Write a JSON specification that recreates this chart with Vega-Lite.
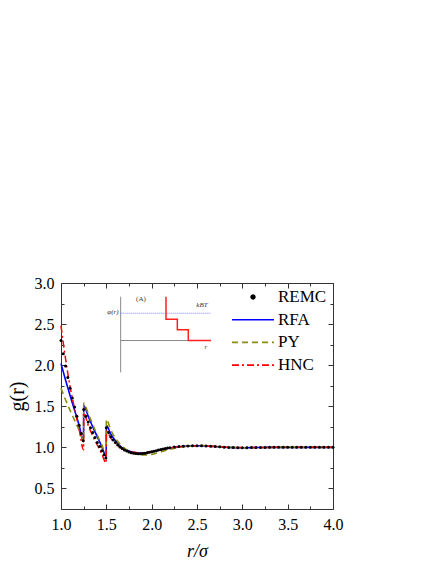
{
  "$schema": "https://vega.github.io/schema/vega-lite/v6.json",
  "autosize": {"type": "none"},
  "width": 272,
  "height": 226,
  "padding": {"left": 61, "top": 283, "right": 103, "bottom": 55},
  "background": "white",
  "config": {"view": {"stroke": null}, "font": "Liberation Serif"},
  "datasets": {
    "curves": [
      {"s":"REMC","r":1.0,"g":2.30},{"s":"REMC","r":1.025,"g":2.14},{"s":"REMC","r":1.05,"g":1.99},{"s":"REMC","r":1.075,"g":1.85},
      {"s":"REMC","r":1.1,"g":1.72},{"s":"REMC","r":1.125,"g":1.60},{"s":"REMC","r":1.15,"g":1.49},{"s":"REMC","r":1.175,"g":1.38},
      {"s":"REMC","r":1.2,"g":1.27},{"s":"REMC","r":1.225,"g":1.17},{"s":"REMC","r":1.245,"g":1.08},
      {"s":"REMC","r":1.25,"g":1.46},{"s":"REMC","r":1.275,"g":1.38},{"s":"REMC","r":1.3,"g":1.31},{"s":"REMC","r":1.325,"g":1.24},
      {"s":"REMC","r":1.35,"g":1.18},{"s":"REMC","r":1.375,"g":1.12},{"s":"REMC","r":1.4,"g":1.06},{"s":"REMC","r":1.425,"g":1.01},
      {"s":"REMC","r":1.45,"g":0.96},{"s":"REMC","r":1.475,"g":0.91},{"s":"REMC","r":1.495,"g":0.87},
      {"s":"REMC","r":1.5,"g":1.24},{"s":"REMC","r":1.525,"g":1.18},{"s":"REMC","r":1.55,"g":1.13},{"s":"REMC","r":1.575,"g":1.09},
      {"s":"REMC","r":1.6,"g":1.06},{"s":"REMC","r":1.625,"g":1.03},{"s":"REMC","r":1.65,"g":1.005},{"s":"REMC","r":1.675,"g":0.985},
      {"s":"REMC","r":1.7,"g":0.968},{"s":"REMC","r":1.725,"g":0.955},{"s":"REMC","r":1.75,"g":0.944},{"s":"REMC","r":1.775,"g":0.935},
      {"s":"REMC","r":1.8,"g":0.929},{"s":"REMC","r":1.825,"g":0.925},{"s":"REMC","r":1.85,"g":0.923},{"s":"REMC","r":1.875,"g":0.923},
      {"s":"REMC","r":1.9,"g":0.925},{"s":"REMC","r":1.925,"g":0.929},{"s":"REMC","r":1.95,"g":0.934},{"s":"REMC","r":1.975,"g":0.94},
      {"s":"REMC","r":2.0,"g":0.947},{"s":"REMC","r":2.025,"g":0.953},{"s":"REMC","r":2.05,"g":0.96},{"s":"REMC","r":2.075,"g":0.967},
      {"s":"REMC","r":2.1,"g":0.974},{"s":"REMC","r":2.125,"g":0.98},{"s":"REMC","r":2.15,"g":0.986},{"s":"REMC","r":2.175,"g":0.991},
      {"s":"REMC","r":2.2,"g":0.996},{"s":"REMC","r":2.25,"g":1.004},{"s":"REMC","r":2.3,"g":1.01},{"s":"REMC","r":2.35,"g":1.015},
      {"s":"REMC","r":2.4,"g":1.018},{"s":"REMC","r":2.45,"g":1.02},{"s":"REMC","r":2.5,"g":1.021},{"s":"REMC","r":2.55,"g":1.02},
      {"s":"REMC","r":2.6,"g":1.018},{"s":"REMC","r":2.65,"g":1.014},{"s":"REMC","r":2.7,"g":1.01},{"s":"REMC","r":2.75,"g":1.006},
      {"s":"REMC","r":2.8,"g":1.002},{"s":"REMC","r":2.85,"g":0.999},{"s":"REMC","r":2.9,"g":0.997},{"s":"REMC","r":2.95,"g":0.996},
      {"s":"REMC","r":3.0,"g":0.996},{"s":"REMC","r":3.05,"g":0.996},{"s":"REMC","r":3.1,"g":0.997},{"s":"REMC","r":3.15,"g":0.998},
      {"s":"REMC","r":3.2,"g":0.999},{"s":"REMC","r":3.25,"g":0.999},{"s":"REMC","r":3.3,"g":1.0},{"s":"REMC","r":3.35,"g":1.0},
      {"s":"REMC","r":3.4,"g":1.0},{"s":"REMC","r":3.45,"g":1.0},{"s":"REMC","r":3.5,"g":1.001},{"s":"REMC","r":3.55,"g":1.001},
      {"s":"REMC","r":3.6,"g":1.0},{"s":"REMC","r":3.65,"g":1.0},{"s":"REMC","r":3.7,"g":1.0},{"s":"REMC","r":3.75,"g":1.0},
      {"s":"REMC","r":3.8,"g":1.0},{"s":"REMC","r":3.85,"g":1.0},{"s":"REMC","r":3.9,"g":1.0},{"s":"REMC","r":3.95,"g":1.0},
      {"s":"REMC","r":4.0,"g":1.0},

      {"s":"RFA","r":1.0,"g":2.02},{"s":"RFA","r":1.05,"g":1.82},{"s":"RFA","r":1.1,"g":1.63},{"s":"RFA","r":1.15,"g":1.45},
      {"s":"RFA","r":1.2,"g":1.27},{"s":"RFA","r":1.249,"g":1.07},
      {"s":"RFA","r":1.25,"g":1.51},{"s":"RFA","r":1.3,"g":1.38},{"s":"RFA","r":1.35,"g":1.25},{"s":"RFA","r":1.4,"g":1.13},
      {"s":"RFA","r":1.45,"g":1.01},{"s":"RFA","r":1.499,"g":0.89},
      {"s":"RFA","r":1.5,"g":1.27},{"s":"RFA","r":1.55,"g":1.16},{"s":"RFA","r":1.6,"g":1.08},{"s":"RFA","r":1.65,"g":1.02},
      {"s":"RFA","r":1.7,"g":0.98},{"s":"RFA","r":1.75,"g":0.955},{"s":"RFA","r":1.8,"g":0.94},{"s":"RFA","r":1.85,"g":0.932},
      {"s":"RFA","r":1.9,"g":0.93},{"s":"RFA","r":1.95,"g":0.935},{"s":"RFA","r":2.0,"g":0.945},{"s":"RFA","r":2.1,"g":0.97},
      {"s":"RFA","r":2.2,"g":0.993},{"s":"RFA","r":2.3,"g":1.008},{"s":"RFA","r":2.4,"g":1.017},{"s":"RFA","r":2.5,"g":1.02},
      {"s":"RFA","r":2.6,"g":1.017},{"s":"RFA","r":2.7,"g":1.01},{"s":"RFA","r":2.8,"g":1.002},{"s":"RFA","r":2.9,"g":0.997},
      {"s":"RFA","r":3.0,"g":0.996},{"s":"RFA","r":3.1,"g":0.997},{"s":"RFA","r":3.2,"g":0.999},{"s":"RFA","r":3.4,"g":1.0},
      {"s":"RFA","r":3.6,"g":1.0},{"s":"RFA","r":3.8,"g":1.0},{"s":"RFA","r":4.0,"g":1.0},

      {"s":"PY","r":1.0,"g":1.72},{"s":"PY","r":1.05,"g":1.58},{"s":"PY","r":1.1,"g":1.45},{"s":"PY","r":1.15,"g":1.33},
      {"s":"PY","r":1.2,"g":1.21},{"s":"PY","r":1.249,"g":1.08},
      {"s":"PY","r":1.25,"g":1.54},{"s":"PY","r":1.3,"g":1.41},{"s":"PY","r":1.35,"g":1.28},{"s":"PY","r":1.4,"g":1.15},
      {"s":"PY","r":1.45,"g":1.03},{"s":"PY","r":1.499,"g":0.91},
      {"s":"PY","r":1.5,"g":1.34},{"s":"PY","r":1.55,"g":1.21},{"s":"PY","r":1.6,"g":1.11},{"s":"PY","r":1.65,"g":1.04},
      {"s":"PY","r":1.7,"g":0.99},{"s":"PY","r":1.75,"g":0.955},{"s":"PY","r":1.8,"g":0.93},{"s":"PY","r":1.85,"g":0.915},
      {"s":"PY","r":1.9,"g":0.908},{"s":"PY","r":1.95,"g":0.908},{"s":"PY","r":2.0,"g":0.915},{"s":"PY","r":2.05,"g":0.928},
      {"s":"PY","r":2.1,"g":0.945},{"s":"PY","r":2.2,"g":0.975},{"s":"PY","r":2.3,"g":0.998},{"s":"PY","r":2.4,"g":1.012},
      {"s":"PY","r":2.5,"g":1.02},{"s":"PY","r":2.6,"g":1.022},{"s":"PY","r":2.7,"g":1.015},{"s":"PY","r":2.8,"g":1.006},
      {"s":"PY","r":2.9,"g":0.999},{"s":"PY","r":3.0,"g":0.995},{"s":"PY","r":3.1,"g":0.995},{"s":"PY","r":3.2,"g":0.997},
      {"s":"PY","r":3.4,"g":1.0},{"s":"PY","r":3.6,"g":1.0},{"s":"PY","r":3.8,"g":1.0},{"s":"PY","r":4.0,"g":1.0},

      {"s":"HNC","r":1.0,"g":2.48},{"s":"HNC","r":1.025,"g":2.27},{"s":"HNC","r":1.05,"g":2.08},{"s":"HNC","r":1.075,"g":1.90},
      {"s":"HNC","r":1.1,"g":1.74},{"s":"HNC","r":1.15,"g":1.47},{"s":"HNC","r":1.2,"g":1.22},{"s":"HNC","r":1.249,"g":0.97},
      {"s":"HNC","r":1.25,"g":1.42},{"s":"HNC","r":1.3,"g":1.27},{"s":"HNC","r":1.35,"g":1.14},{"s":"HNC","r":1.4,"g":1.03},
      {"s":"HNC","r":1.45,"g":0.92},{"s":"HNC","r":1.499,"g":0.81},
      {"s":"HNC","r":1.5,"g":1.20},{"s":"HNC","r":1.55,"g":1.11},{"s":"HNC","r":1.6,"g":1.05},{"s":"HNC","r":1.65,"g":1.0},
      {"s":"HNC","r":1.7,"g":0.97},{"s":"HNC","r":1.75,"g":0.95},{"s":"HNC","r":1.8,"g":0.94},{"s":"HNC","r":1.85,"g":0.935},
      {"s":"HNC","r":1.9,"g":0.935},{"s":"HNC","r":1.95,"g":0.94},{"s":"HNC","r":2.0,"g":0.95},{"s":"HNC","r":2.1,"g":0.972},
      {"s":"HNC","r":2.2,"g":0.993},{"s":"HNC","r":2.3,"g":1.008},{"s":"HNC","r":2.4,"g":1.016},{"s":"HNC","r":2.5,"g":1.019},
      {"s":"HNC","r":2.6,"g":1.016},{"s":"HNC","r":2.7,"g":1.01},{"s":"HNC","r":2.8,"g":1.003},{"s":"HNC","r":2.9,"g":0.998},
      {"s":"HNC","r":3.0,"g":0.997},{"s":"HNC","r":3.2,"g":0.999},{"s":"HNC","r":3.4,"g":1.0},{"s":"HNC","r":3.7,"g":1.0},
      {"s":"HNC","r":4.0,"g":1.0}
    ],
    "inset": [
      {"part":"vaxis","o":0,"r":1.658,"g":2.834},{"part":"vaxis","o":1,"r":1.658,"g":1.912},
      {"part":"haxis","o":0,"r":1.658,"g":2.30},{"part":"haxis","o":1,"r":2.654,"g":2.30},
      {"part":"kT","o":0,"r":1.658,"g":2.632},{"part":"kT","o":1,"r":2.654,"g":2.632},
      {"part":"step","o":0,"r":2.158,"g":2.834},{"part":"step","o":1,"r":2.158,"g":2.56},
      {"part":"step","o":2,"r":2.283,"g":2.56},{"part":"step","o":3,"r":2.283,"g":2.43},
      {"part":"step","o":4,"r":2.404,"g":2.43},{"part":"step","o":5,"r":2.404,"g":2.30},
      {"part":"step","o":6,"r":2.654,"g":2.30}
    ],
    "labels": [
      {"t":"φ(r)","it":true,"r":1.573,"g":2.645},
      {"t":"(A)","it":false,"r":1.882,"g":2.80},
      {"t":"kBT","it":true,"r":2.555,"g":2.733},
      {"t":"r","it":true,"r":2.599,"g":2.223}
    ]
  },
  "resolve": {"axis": {"x": "independent", "y": "independent"}},
  "layer": [
    {
      "data": {"name": "curves"},
      "transform": [{"filter": "datum.s === 'RFA'"}],
      "mark": {"type": "line", "strokeWidth": 1.6, "interpolate": "monotone"},
      "encoding": {
        "x": {"field": "r", "type": "quantitative", "scale": {"domain": [1, 4], "nice": false, "zero": false},
          "axis": {"orient": "bottom", "values": [1,1.25,1.5,1.75,2,2.25,2.5,2.75,3,3.25,3.5,3.75,4],
            "tickSize": {"condition": {"test": "abs(datum.value*2-round(datum.value*2))<0.01", "value": -5}, "value": -3},
            "labelExpr": "abs(datum.value*2-round(datum.value*2))<0.01 ? format(datum.value,'.1f') : ''",
            "labelFlush": false, "labelOverlap": false, "labelFont": "Liberation Serif", "labelFontSize": 16, "labelColor": "black",
            "labelPadding": 12, "grid": false, "domainColor": "#333", "tickColor": "#333",
            "title": "r/σ", "titleFont": "Liberation Serif", "titleFontSize": 18, "titleFontWeight": "normal", "titleFontStyle": "italic", "titleColor": "black", "titlePadding": 8}},
        "y": {"field": "g", "type": "quantitative", "scale": {"domain": [0.25, 3.0], "nice": false, "zero": false},
          "axis": {"orient": "left", "values": [0.25,0.5,0.75,1,1.25,1.5,1.75,2,2.25,2.5,2.75,3],
            "tickSize": {"condition": {"test": "abs(datum.value*2-round(datum.value*2))<0.01", "value": -5}, "value": -3},
            "labelExpr": "abs(datum.value*2-round(datum.value*2))<0.01 ? format(datum.value,'.1f') : ''",
            "labelFlush": false, "labelOverlap": false, "labelFont": "Liberation Serif", "labelFontSize": 16, "labelColor": "black",
            "labelPadding": 12, "grid": false, "domainColor": "#333", "tickColor": "#333",
            "title": "g(r)", "titleFont": "Liberation Serif", "titleFontSize": 20, "titleFontWeight": "normal", "titleColor": "black", "titlePadding": 7}},
        "color": {"field": "s", "type": "nominal",
          "scale": {"domain": ["REMC", "RFA", "PY", "HNC"], "range": ["black", "#0000ff", "#8c8c14", "#ff0000"]},
          "legend": {"orient": "none", "legendX": 170, "legendY": 5.5, "title": null, "labelFont": "Liberation Serif", "labelFontSize": 17,
            "labelColor": "black", "symbolType": "stroke", "symbolSize": 1764, "symbolStrokeWidth": 1.6, "labelOffset": 3,
            "clipHeight": 17, "rowPadding": 4.7,
            "encode": {"symbols": {"update": {
              "shape": {"signal": "datum.value === 'REMC' ? 'circle' : 'stroke'"},
              "size": {"signal": "datum.value === 'REMC' ? 14 : 1764"},
              "fill": {"signal": "datum.value === 'REMC' ? 'black' : 'transparent'"},
              "stroke": {"signal": "datum.value === 'REMC' ? 'transparent' : scale('color', datum.value)"},
              "strokeWidth": {"value": 1.6},
              "strokeDash": {"signal": "datum.value === 'PY' ? [6,4] : datum.value === 'HNC' ? [7,3,2,3] : [1,0]"},
              "opacity": {"value": 1}
            }}}}
        }
      }
    },
    {
      "data": {"name": "curves"},
      "transform": [{"filter": "datum.s === 'PY'"}],
      "mark": {"type": "line", "strokeWidth": 1.6, "strokeDash": [6, 4], "interpolate": "monotone"},
      "encoding": {
        "x": {"field": "r", "type": "quantitative",
          "axis": {"orient": "top", "values": [1,1.25,1.5,1.75,2,2.25,2.5,2.75,3,3.25,3.5,3.75,4],
            "tickSize": {"condition": {"test": "abs(datum.value*2-round(datum.value*2))<0.01", "value": -5}, "value": -3},
            "labels": false, "grid": false, "title": null, "domainColor": "#333", "tickColor": "#333"}},
        "y": {"field": "g", "type": "quantitative",
          "axis": {"orient": "right", "values": [0.25,0.5,0.75,1,1.25,1.5,1.75,2,2.25,2.5,2.75,3],
            "tickSize": {"condition": {"test": "abs(datum.value*2-round(datum.value*2))<0.01", "value": -5}, "value": -3},
            "labels": false, "grid": false, "title": null, "domainColor": "#333", "tickColor": "#333"}},
        "color": {"field": "s", "type": "nominal"}
      }
    },
    {
      "data": {"name": "curves"},
      "transform": [{"filter": "datum.s === 'HNC'"}],
      "mark": {"type": "line", "strokeWidth": 1.5, "strokeDash": [7, 3, 2, 3], "interpolate": "monotone"},
      "encoding": {
        "x": {"field": "r", "type": "quantitative", "axis": null},
        "y": {"field": "g", "type": "quantitative", "axis": null},
        "color": {"field": "s", "type": "nominal"}
      }
    },
    {
      "data": {"name": "curves"},
      "transform": [{"filter": "datum.s === 'REMC'"}],
      "mark": {"type": "point", "filled": true, "size": 9, "opacity": 1},
      "encoding": {
        "x": {"field": "r", "type": "quantitative", "axis": null},
        "y": {"field": "g", "type": "quantitative", "axis": null},
        "color": {"field": "s", "type": "nominal"}
      }
    },
    {
      "data": {"name": "inset"},
      "transform": [{"filter": "datum.part === 'vaxis' || datum.part === 'haxis'"}],
      "mark": {"type": "line", "color": "#8a8a8a", "strokeWidth": 1},
      "encoding": {
        "x": {"field": "r", "type": "quantitative", "axis": null},
        "y": {"field": "g", "type": "quantitative", "axis": null},
        "detail": {"field": "part"},
        "order": {"field": "o"}
      }
    },
    {
      "data": {"name": "inset"},
      "transform": [{"filter": "datum.part === 'kT'"}],
      "mark": {"type": "line", "color": "#6060ff", "strokeWidth": 0.8, "strokeDash": [1, 1]},
      "encoding": {
        "x": {"field": "r", "type": "quantitative", "axis": null},
        "y": {"field": "g", "type": "quantitative", "axis": null},
        "order": {"field": "o"}
      }
    },
    {
      "data": {"name": "inset"},
      "transform": [{"filter": "datum.part === 'step'"}],
      "mark": {"type": "line", "color": "#ff2020", "strokeWidth": 1.5},
      "encoding": {
        "x": {"field": "r", "type": "quantitative", "axis": null},
        "y": {"field": "g", "type": "quantitative", "axis": null},
        "order": {"field": "o"}
      }
    },
    {
      "data": {"name": "labels"},
      "transform": [{"filter": "datum.it"}],
      "mark": {"type": "text", "font": "Liberation Serif", "fontSize": 7, "fontStyle": "italic", "color": "#333", "align": "center", "baseline": "middle"},
      "encoding": {
        "x": {"field": "r", "type": "quantitative", "axis": null},
        "y": {"field": "g", "type": "quantitative", "axis": null},
        "text": {"field": "t"}
      }
    },
    {
      "data": {"name": "labels"},
      "transform": [{"filter": "!datum.it"}],
      "mark": {"type": "text", "font": "Liberation Serif", "fontSize": 7, "color": "#333", "align": "center", "baseline": "middle"},
      "encoding": {
        "x": {"field": "r", "type": "quantitative", "axis": null},
        "y": {"field": "g", "type": "quantitative", "axis": null},
        "text": {"field": "t"}
      }
    }
  ]
}
